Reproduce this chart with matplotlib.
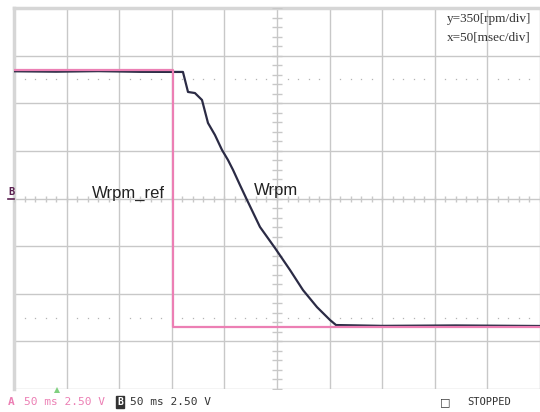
import numpy as np
import matplotlib.pyplot as plt

# time in ms (50 ms/div), speed in rpm (350 rpm/div)
wrpm_t = [0, 40, 80, 120, 160.6, 165.4, 172, 178.7, 184.4, 191, 197.7, 203.4,
          208.2, 214.8, 221.5, 233.8, 248.1, 262.4, 274.7, 288.0, 300.4,
          306.1, 350, 420, 500]
wrpm_v = [935, 932, 936, 931, 930, 783, 775, 724, 555, 467, 357, 283,
          210, 99, -11, -209, -364, -526, -673, -798, -893,
          -930, -936, -933, -937]

ref_t = [0, 151, 151, 500]
ref_v = [948, 948, -942, -942]

grid_c = '#c8c8c8'
pink = '#ec7fb4'
navy = '#2b2b45'

fig = plt.figure(figsize=(5.4, 4.12), dpi=100)
ax = fig.add_axes([14 / 540, 23 / 412, 526 / 540, 381 / 412])
ax.set_xlim(0, 500)
ax.set_ylim(-1400, 1400)

ax.set_xticks(np.arange(0, 501, 50))
ax.set_yticks(np.arange(-1400, 1401, 350))
ax.grid(True, color=grid_c, lw=1)
ax.tick_params(length=0, labelbottom=False, labelleft=False)
for s in ax.spines.values():
    s.set_visible(False)

# frame edges
ax.axvline(0, color='#d6d6d6', lw=2.5, clip_on=False)
ax.axhline(1400, color='#d6d6d6', lw=2.5, clip_on=False)

# centre cross ticks
cx = np.arange(0, 501, 10)
ax.plot(cx, np.zeros_like(cx), '|', ms=5, color=grid_c, mew=1)
cy = np.arange(-1400, 1401, 70)
ax.plot(np.full_like(cy, 250), cy, '_', ms=7, color=grid_c, mew=1)

# dotted reference levels
dx = [x for x in range(10, 500, 10) if x % 50 != 0]
for lvl in (875, -875):
    ax.plot(dx, [lvl] * len(dx), 's', ms=0.9, color='#b4b4b4', mew=0)

ax.plot(wrpm_t, wrpm_v, color=navy, lw=1.6)
ax.plot(ref_t, ref_v, color=pink, lw=1.6)

fig.text(92 / 540, 1 - 198 / 412, 'Wrpm_ref', fontsize=12,
         family='Liberation Sans', color='#222222', va='baseline')
fig.text(254 / 540, 1 - 195 / 412, 'Wrpm', fontsize=12,
         family='Liberation Sans', color='#222222', va='baseline')

fig.text(447 / 540, 1 - 22 / 412, 'y=350[rpm/div]', fontsize=9.5,
         family='Liberation Serif', color='#333333', va='baseline')
fig.text(447 / 540, 1 - 41 / 412, 'x=50[msec/div]', fontsize=9.5,
         family='Liberation Serif', color='#333333', va='baseline')

# channel B marker on the left
fig.text(8 / 540, 1 - 195 / 412, 'B', fontsize=7.5, fontweight='bold',
         family='DejaVu Sans Mono', color='#5a2050', va='baseline')
fig.add_artist(plt.Line2D([8 / 540, 14 / 540], [1 - 199 / 412] * 2,
                          color='#5a2050', lw=1.2))

# bottom status line
mono = 'DejaVu Sans Mono'
fig.text(8 / 540, 1 - 405 / 412, 'A', fontsize=8, fontweight='bold',
         family=mono, color=pink, va='baseline')
fig.text(24 / 540, 1 - 405 / 412, '50 ms 2.50 V', fontsize=8,
         family=mono, color=pink, va='baseline')
fig.text(117 / 540, 1 - 405 / 412, 'B', fontsize=7, fontweight='bold',
         family=mono, color='white', va='baseline',
         bbox=dict(boxstyle='square,pad=0.08', fc='#333333', ec='#333333'))
fig.text(130 / 540, 1 - 405 / 412, '50 ms 2.50 V', fontsize=8,
         family=mono, color='#333333', va='baseline')
fig.text(440 / 540, 1 - 405 / 412, '\u25a1', fontsize=8,
         family='DejaVu Sans', color='#333333', va='baseline')
fig.text(467 / 540, 1 - 405 / 412, 'STOPPED', fontsize=7.5,
         family=mono, color='#333333', va='baseline')
fig.add_artist(plt.Line2D([57 / 540], [1 - 390 / 412], marker='^', ms=4,
                          color='#7fd07f', mew=0))

fig.savefig('out.png', dpi=100)
